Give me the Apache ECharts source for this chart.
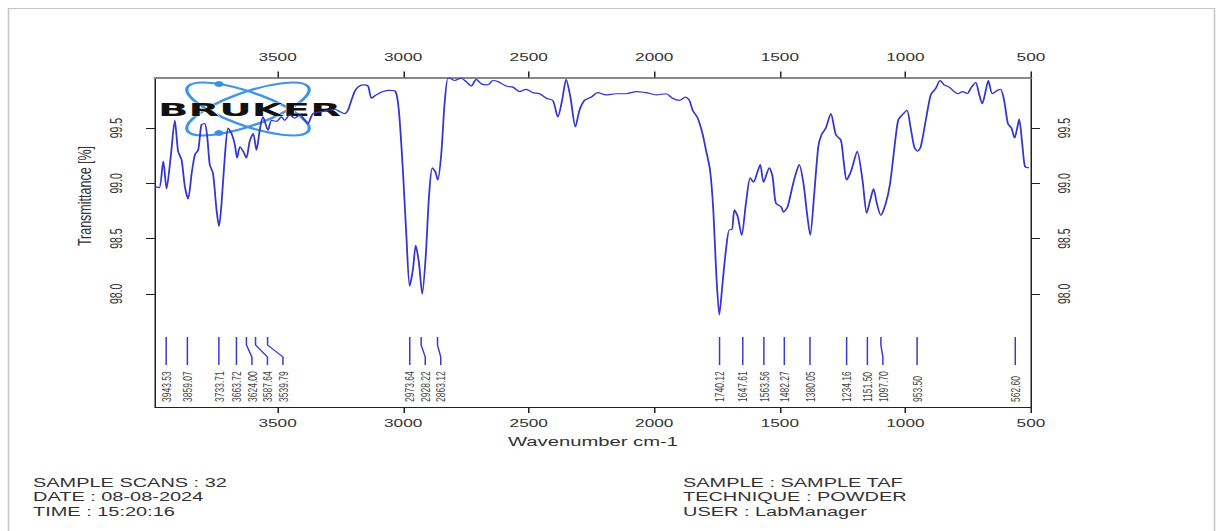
<!DOCTYPE html>
<html>
<head>
<meta charset="utf-8">
<title>FTIR spectrum</title>
<script src="https://cdn.jsdelivr.net/npm/echarts@6/dist/echarts.min.js"></script>
<style>
  html, body { margin: 0; padding: 0; background: #fff; overflow: hidden; }
  #wrap { width: 1223px; height: 531px; overflow: hidden; }
  #chart { height: 531px; transform-origin: 0 0; }
</style>
</head>
<body>
<div id="wrap"><div id="chart"></div></div>
<script>
// The printed report is laid out narrow and stretched horizontally.
const SX = 1.5;

// Spectrum: wavenumber (cm-1) and transmittance (%)
const wavenumber = [
  3988, 3971, 3955, 3942, 3925, 3909, 3896, 3882, 3869, 3856, 3842, 3829, 3816, 3803, 3790,
  3780, 3770, 3757, 3743, 3733, 3723, 3710, 3697, 3683, 3670, 3661, 3650, 3637, 3624, 3611,
  3597, 3584, 3571, 3558, 3538, 3524, 3504, 3485, 3471, 3452, 3432, 3412, 3392, 3379, 3359,
  3319, 3272, 3253, 3233, 3220, 3206, 3193, 3180, 3160, 3140, 3126, 3107, 3080, 3054, 3030,
  3017, 3001, 2987, 2974, 2961, 2950, 2937, 2924, 2910, 2897, 2884, 2871, 2862, 2848, 2835,
  2822, 2815, 2795, 2769, 2749, 2729, 2709, 2689, 2669, 2656, 2643, 2623, 2590, 2563, 2537,
  2510, 2484, 2457, 2430, 2404, 2384, 2367, 2351, 2334, 2314, 2298, 2278, 2251, 2225, 2192,
  2152, 2112, 2072, 2033, 1993, 1953, 1927, 1900, 1876, 1860, 1847, 1827, 1808, 1794, 1778,
  1765, 1754, 1741, 1728, 1714, 1701, 1691, 1681, 1668, 1652, 1635, 1618, 1605, 1591, 1578,
  1565, 1542, 1529, 1516, 1496, 1485, 1469, 1450, 1436, 1423, 1406, 1392, 1379, 1363, 1347,
  1334, 1317, 1297, 1277, 1257, 1245, 1234, 1215, 1192, 1171, 1154, 1140, 1127, 1114, 1098,
  1078, 1061, 1045, 1029, 1012, 994, 979, 965, 952, 939, 919, 899, 879, 862, 846,
  826, 806, 790, 773, 753, 740, 720, 707, 694, 680, 670, 654, 634, 621, 607,
  592, 578, 565, 555, 547, 535, 524, 508
];
const transmittance = [
  98.97, 98.96, 99.20, 98.95, 99.25, 99.57, 99.29, 99.21, 98.97, 98.86, 99.09, 99.26, 99.30, 99.53, 99.54,
  99.42, 99.17, 99.09, 98.76, 98.61, 98.82, 99.24, 99.50, 99.45, 99.35, 99.23, 99.33, 99.29, 99.23, 99.38,
  99.45, 99.30, 99.48, 99.60, 99.48, 99.57, 99.56, 99.60, 99.57, 99.62, 99.59, 99.62, 99.57, 99.54, 99.63,
  99.65, 99.67, 99.65, 99.63, 99.66, 99.75, 99.83, 99.87, 99.89, 99.88, 99.77, 99.80, 99.83, 99.84, 99.83,
  99.66, 99.12, 98.52, 98.07, 98.22, 98.44, 98.28, 98.00, 98.34, 98.88, 99.14, 99.10, 99.03, 99.27, 99.72,
  99.95, 99.95, 99.93, 99.95, 99.92, 99.88, 99.94, 99.90, 99.89, 99.90, 99.93, 99.92, 99.88, 99.87, 99.83,
  99.85, 99.82, 99.81, 99.77, 99.75, 99.60, 99.75, 99.94, 99.78, 99.51, 99.66, 99.75, 99.78, 99.82, 99.80,
  99.81, 99.81, 99.83, 99.82, 99.80, 99.81, 99.77, 99.75, 99.78, 99.75, 99.66, 99.59, 99.45, 99.30, 99.12,
  98.76, 98.22, 97.81, 98.10, 98.41, 98.58, 98.58, 98.76, 98.70, 98.53, 98.82, 99.05, 99.01, 99.09, 99.17,
  99.01, 99.14, 99.06, 98.82, 98.79, 98.74, 98.79, 98.97, 99.09, 99.17, 99.00, 98.73, 98.53, 98.91, 99.33,
  99.44, 99.50, 99.63, 99.44, 99.39, 99.18, 99.03, 99.12, 99.29, 99.03, 98.73, 98.85, 98.95, 98.82, 98.71,
  98.82, 99.00, 99.30, 99.57, 99.62, 99.66, 99.50, 99.33, 99.29, 99.33, 99.57, 99.80, 99.86, 99.93, 99.89,
  99.87, 99.83, 99.81, 99.83, 99.81, 99.86, 99.91, 99.81, 99.72, 99.84, 99.93, 99.81, 99.84, 99.85, 99.75,
  99.54, 99.50, 99.41, 99.50, 99.58, 99.36, 99.15, 99.14
];

// Picked peaks
const peakPositions = [
  3943.53, 3859.07, 3733.71, 3663.72, 3624.00, 3587.64, 3539.79,
  2973.64, 2928.22, 2863.12,
  1740.12, 1647.61, 1563.56, 1482.27, 1380.05, 1234.16, 1151.50, 1097.70, 953.50, 562.60
];
const peakLabels = peakPositions.map(v => v.toFixed(2));

// Axis ranges and ticks
const xMin = 500, xMax = 3988;
const yMin = 96.977, yMax = 99.957;
const xTicks = [3500, 3000, 2500, 2000, 1500, 1000, 500];
const yTicks = [98.0, 98.5, 99.0, 99.5];

const yTitle = 'Transmittance [%]';
const xTitle = 'Wavenumber cm-1';
const infoLeft = ['SAMPLE SCANS : 32', 'DATE : 08-08-2024', 'TIME : 15:20:16'];
const infoRight = ['SAMPLE : SAMPLE TAF', 'TECHNIQUE : POWDER', 'USER : LabManager'];

const FONT = '"Liberation Sans", Arial, sans-serif';
const chartEl = document.getElementById('chart');
chartEl.style.width = (1223 / SX) + 'px';
chartEl.style.transform = 'scaleX(' + SX + ')';

const chart = echarts.init(chartEl, null, { renderer: 'svg' });

const spectrum = wavenumber.map((w, i) => [w, transmittance[i]]);

function xAxisBase(position, margin, lineStyle) {
  return {
    type: 'value', position: position, min: xMin, max: xMax, inverse: true,
    axisLine: { show: true, onZero: false, lineStyle: lineStyle },
    axisTick: { show: true, inside: false, length: 6, customValues: xTicks, lineStyle: { color: '#222', width: 1 } },
    axisLabel: {
      show: true, customValues: xTicks, margin: margin, color: '#333', fontSize: 11.5, fontFamily: FONT,
      formatter: v => String(Math.round(v))
    },
    splitLine: { show: false }
  };
}
function yAxisBase(position, margin) {
  return {
    type: 'value', position: position, min: yMin, max: yMax,
    axisLine: { show: true, onZero: false, lineStyle: { color: '#222', width: 1 } },
    axisTick: { show: true, inside: false, length: 6, customValues: yTicks, lineStyle: { color: '#222', width: 1 } },
    axisLabel: {
      show: true, customValues: yTicks, rotate: 90, margin: margin,
      color: '#333', fontSize: 10.5, fontFamily: FONT,
      formatter: v => Number(v).toFixed(1)
    },
    splitLine: { show: false }
  };
}

const bottomX = xAxisBase('bottom', 10, { color: '#222', width: 1 });
bottomX.name = xTitle;
bottomX.nameLocation = 'middle';
bottomX.nameGap = 27;
bottomX.nameTextStyle = { color: '#333', fontSize: 13.5, fontFamily: FONT };

const option = {
  animation: false,
  backgroundColor: '#fff',
  grid: { left: 155 / SX, right: (1223 - 1031.5) / SX, top: 77.5, bottom: 124, containLabel: false },
  xAxis: [bottomX, xAxisBase('top', 14, { color: '#888', width: 2 })],
  yAxis: [yAxisBase('left', 20), yAxisBase('right', 17)],
  series: [
    {
      type: 'line', name: 'spectrum', xAxisIndex: 0, yAxisIndex: 0,
      data: spectrum, showSymbol: false, smooth: 0.25,
      lineStyle: { color: '#3535d0', width: 1.2 },
      z: 3
    },
    {
      type: 'custom', name: 'peaks', xAxisIndex: 0, yAxisIndex: 0,
      data: peakPositions.map(p => [p, yMin]),
      z: 4,
      renderItem: function (params, api) {
        const cs = params.coordSys;
        const base = cs.y + cs.height;
        const gap = 15.5 / SX;
        let prev = -Infinity, px = 0, lx = 0;
        for (let i = 0; i <= params.dataIndex; i++) {
          px = api.coord([peakPositions[i], yMin])[0];
          lx = Math.max(px, prev + gap);
          prev = lx;
        }
        const stroke = { stroke: '#3a3ad0', lineWidth: 1, fill: null };
        const marker = (lx - px < 0.5)
          ? { type: 'line', shape: { x1: px, y1: base - 70, x2: px, y2: base - 42 }, style: stroke }
          : { type: 'polyline', shape: { points: [[px, base - 70], [px, base - 62], [lx, base - 50], [lx, base - 42]] }, style: stroke };
        return {
          type: 'group',
          children: [
            marker,
            {
              type: 'text', x: lx, y: base - 5, rotation: Math.PI / 2,
              style: {
                text: peakLabels[params.dataIndex], fill: '#444',
                fontSize: 8.5, fontFamily: FONT, align: 'left', verticalAlign: 'middle'
              }
            }
          ]
        };
      }
    }
  ],
  graphic: [
    // page frame
    {
      type: 'rect', z: 0, silent: true,
      shape: { x: 8.5 / SX, y: 8.5, width: 1206 / SX, height: 560 },
      style: { fill: null, stroke: '#c4c4c4', lineWidth: 1 }
    },
    // y axis title
    {
      type: 'text', x: 85 / SX, y: 196, rotation: Math.PI / 2, z: 10,
      style: { text: yTitle, fill: '#333', fontSize: 12.5, fontFamily: FONT, align: 'center', verticalAlign: 'middle' }
    },
    // acquisition info
    {
      type: 'text', x: 33 / SX, y: 475, z: 10,
      style: { text: infoLeft.join('\n'), fill: '#333', fontSize: 13.3, lineHeight: 14.5, fontFamily: FONT, align: 'left', verticalAlign: 'top' }
    },
    {
      type: 'text', x: 683 / SX, y: 475, z: 10,
      style: { text: infoRight.join('\n'), fill: '#333', fontSize: 13.3, lineHeight: 14.5, fontFamily: FONT, align: 'left', verticalAlign: 'top' }
    },
    // instrument logo
    {
      type: 'group', z: 20,
      children: [
        {
          type: 'ellipse', x: 248 / SX, y: 109, rotation: -Math.atan2(45, 120 / SX),
          shape: { cx: 0, cy: 0, rx: Math.hypot(60 / SX, 22.5), ry: 16 },
          style: { fill: null, stroke: '#3f95e6', lineWidth: 2.2 }
        },
        {
          type: 'ellipse', x: 248 / SX, y: 109, rotation: Math.atan2(45, 120 / SX),
          shape: { cx: 0, cy: 0, rx: Math.hypot(60 / SX, 22.5), ry: 16 },
          style: { fill: null, stroke: '#3f95e6', lineWidth: 2.2 }
        },
        { type: 'circle', shape: { cx: 219 / SX, cy: 84, r: 3 }, style: { fill: '#3a8fe4' } },
        { type: 'circle', shape: { cx: 219 / SX, cy: 133, r: 3 }, style: { fill: '#3a8fe4' } },
        {
          type: 'text', x: 158 / SX, y: 109.5, scaleX: 1.57,
          style: {
            text: 'BRUKER', fill: '#111', stroke: '#fff', lineWidth: 0.6,
            fontSize: 17, fontWeight: 'bold', fontFamily: '"DejaVu Sans", sans-serif',
            align: 'left', verticalAlign: 'middle'
          }
        }
      ]
    }
  ]
};

chart.setOption(option);
</script>
</body>
</html>
